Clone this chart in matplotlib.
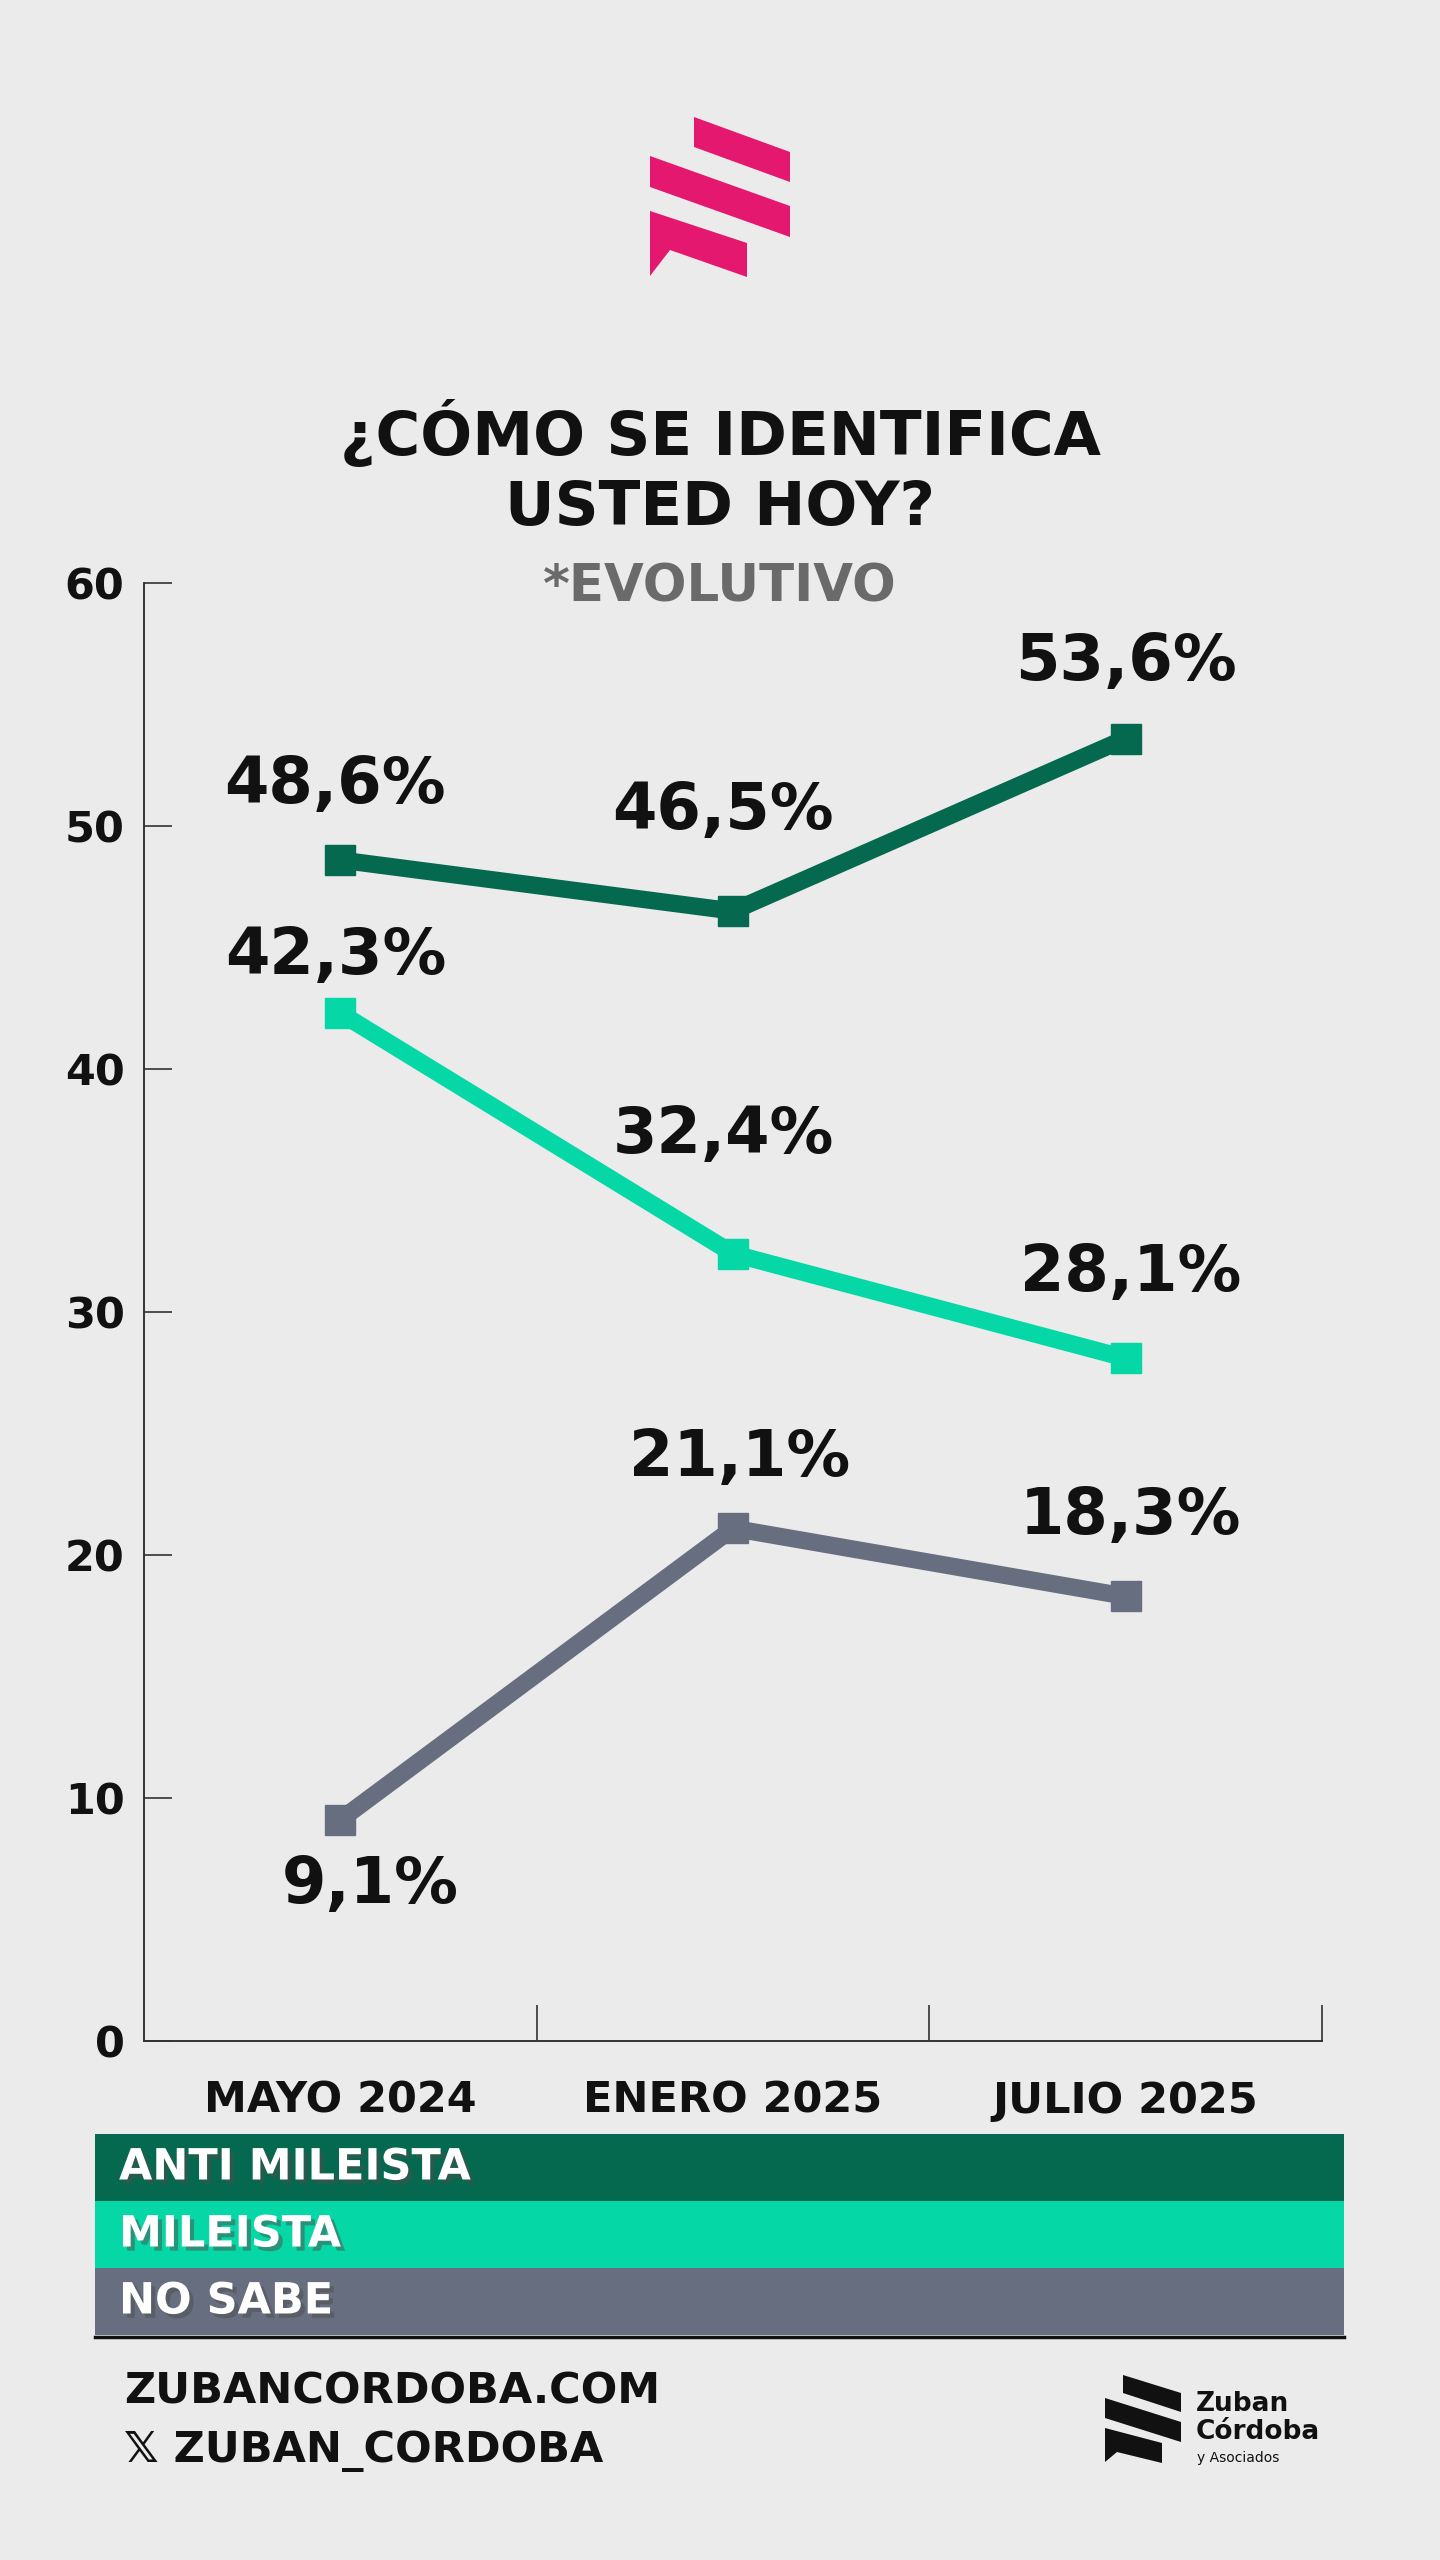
import matplotlib
matplotlib.use('Agg')
import matplotlib.pyplot as plt
import matplotlib.patches as mpatches
import matplotlib.patheffects as pe

# ---- data ----
periods = ['MAYO 2024', 'ENERO 2025', 'JULIO 2025']
series_names = ['ANTI MILEISTA', 'MILEISTA', 'NO SABE']
anti_mileista = [48.6, 46.5, 53.6]
mileista = [42.3, 32.4, 28.1]
no_sabe = [9.1, 21.1, 18.3]
y_ticks = [0, 10, 20, 30, 40, 50, 60]

COLORS = ['#04694f', '#05d8a6', '#676e7f']
PINK = '#e4186f'
BG = '#ebebeb'

plt.rcParams['font.family'] = ['DejaVu Sans']

W, H = 1440, 2560
fig = plt.figure(figsize=(W / 100, H / 100), dpi=100, facecolor=BG)


def fx(px):
    return px / W


def fy(py):
    return 1 - py / H


# ---- pink logo at top ----
logo = [
    [(694, 117), (790, 152), (790, 182), (694, 147)],
    [(650, 156), (790, 206), (790, 237), (650, 187)],
    [(650, 211), (747, 243), (747, 277), (670, 250), (650, 276)],
]
for poly in logo:
    fig.patches.append(mpatches.Polygon([(fx(x), fy(y)) for x, y in poly],
                                        closed=True, transform=fig.transFigure,
                                        facecolor=PINK, edgecolor='none'))

# ---- titles ----
fig.text(0.5, fy(434), '¿CÓMO SE IDENTIFICA', ha='center', va='center',
         fontsize=44, fontweight='bold', color='#111111')
fig.text(0.5, fy(509), 'USTED HOY?', ha='center', va='center',
         fontsize=44, fontweight='bold', color='#111111')
fig.text(0.5, fy(588), '*EVOLUTIVO', ha='center', va='center',
         fontsize=37, fontweight='bold', color='#6a6a6a')

# ---- main chart ----
ax = fig.add_axes([fx(144), fy(2041), fx(1322) - fx(144), fy(583) - fy(2041)])
ax.set_facecolor('none')
x = list(range(len(periods)))
all_series = [anti_mileista, mileista, no_sabe]
for vals, col in zip(all_series, COLORS):
    ax.plot(x, vals, color=col, linewidth=12.5, marker='s', markersize=21,
            solid_joinstyle='miter', zorder=3)

# label offsets in pixels (dx, dy) per series/point
offsets = [
    [(-5, 75), (-10, 100), (0, 77)],
    [(-5, 57), (-10, 119), (5, 85)],
    [(30, -65), (7, 70), (5, 80)],
]
for vals, offs in zip(all_series, offsets):
    for xi, v, (dx, dy) in zip(x, vals, offs):
        ax.annotate(f'{v:.1f}%'.replace('.', ','), (xi, v), xytext=(dx, dy),
                    textcoords='offset pixels', ha='center', va='center',
                    fontsize=46, fontweight='heavy', color='#111111', zorder=4)

ax.set_xlim(-0.5, 2.5)
ax.set_ylim(0, 60)
ax.set_yticks(y_ticks)
ax.set_yticklabels([str(t) for t in y_ticks])
ax.set_xticks(x)
ax.set_xticklabels(periods)
ax.set_xticks([0.5, 1.5, 2.5], minor=True)
ax.tick_params(axis='x', which='major', length=0, pad=28, labelsize=31,
               labelcolor='#111111')
ax.tick_params(axis='x', which='minor', direction='in', length=26, width=1.2,
               color='#333333')
ax.tick_params(axis='y', direction='in', length=20, width=1.2, pad=14,
               labelsize=31, color='#333333', labelcolor='#111111')
for lbl in ax.get_xticklabels() + ax.get_yticklabels():
    lbl.set_fontweight('bold')
for side in ['top', 'right']:
    ax.spines[side].set_visible(False)
for side in ['left', 'bottom']:
    ax.spines[side].set_color('#333333')
    ax.spines[side].set_linewidth(1.4)

# ---- legend bands ----
band_top, band_h = 2134, 67
for i, (name, col) in enumerate(zip(series_names, COLORS)):
    y0 = band_top + i * band_h
    fig.patches.append(mpatches.Rectangle((fx(95), fy(y0 + band_h)), fx(1344) - fx(95),
                                          band_h / H, transform=fig.transFigure,
                                          facecolor=col, edgecolor='none'))
    fig.text(fx(119), fy(y0 + band_h / 2), name, ha='left', va='center',
             fontsize=31, fontweight='bold', color='white',
             path_effects=[pe.withSimplePatchShadow(offset=(3, -3), alpha=0.5)])
fig.add_artist(plt.Line2D([fx(95), fx(1344)], [fy(2337), fy(2337)],
                          color='#111111', linewidth=2.5,
                          transform=fig.transFigure))

# ---- footer ----
fig.text(fx(124), fy(2392), 'ZUBANCORDOBA.COM', ha='left', va='center',
         fontsize=31, fontweight='bold', color='#111111')
fig.text(fx(124), fy(2451), '𝕏 ZUBAN_CORDOBA', ha='left', va='center',
         fontsize=31, fontweight='bold', color='#111111')

# small black logo bottom right
black_logo = [
    [(1123, 2375), (1181, 2393), (1181, 2412), (1123, 2393)],
    [(1105, 2398), (1181, 2422), (1181, 2442), (1105, 2418)],
    [(1105, 2428), (1162, 2443), (1162, 2463), (1117, 2452), (1105, 2462)],
]
for poly in black_logo:
    fig.patches.append(mpatches.Polygon([(fx(px), fy(py)) for px, py in poly],
                                        closed=True, transform=fig.transFigure,
                                        facecolor='#111111', edgecolor='none'))
fig.text(fx(1196), fy(2404), 'Zuban', ha='left', va='center',
         fontsize=19, fontweight='bold', color='#111111')
fig.text(fx(1196), fy(2432), 'Córdoba', ha='left', va='center',
         fontsize=19, fontweight='bold', color='#111111')
fig.text(fx(1197), fy(2458), 'y Asociados', ha='left', va='center',
         fontsize=10, color='#111111')

fig.savefig('out.png', dpi=100, facecolor=BG)
